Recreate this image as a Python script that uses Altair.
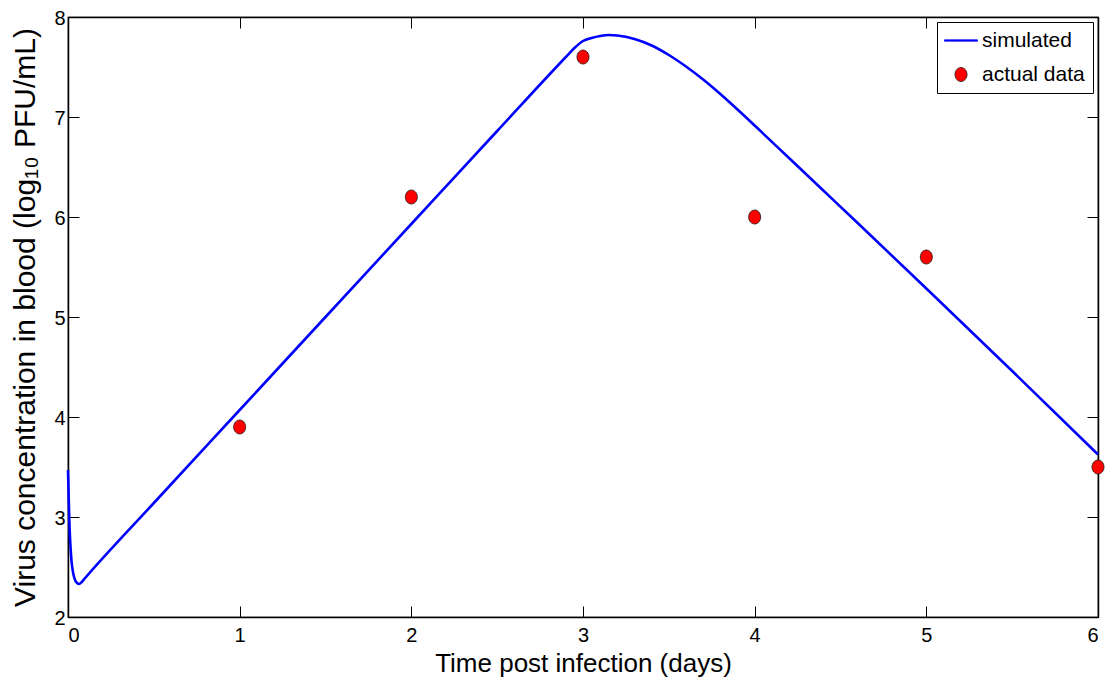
import altair as alt
import pandas as pd

# simulated curve (days post infection, log10 PFU/mL)
sim_day = [0.0, 0.004, 0.008, 0.014, 0.021, 0.03, 0.041, 0.053, 0.065, 0.08, 0.1,
           0.5, 1.0, 1.5, 2.0, 2.5, 2.9, 2.95, 3.0, 3.05, 3.1, 3.15, 3.2, 3.3, 3.4,
           3.5, 3.6, 3.7, 3.8, 3.9, 4.0, 4.2, 4.4, 4.6, 5.0, 5.5, 6.0]
sim_log = [3.47, 3.2, 2.95, 2.72, 2.55, 2.44, 2.37, 2.34, 2.33, 2.35, 2.39,
           3.14, 4.07, 5.0, 5.93, 6.86, 7.6, 7.69, 7.76, 7.79, 7.81, 7.82, 7.815, 7.78, 7.715,
           7.62, 7.505, 7.375, 7.23, 7.075, 6.915, 6.59, 6.265, 5.94, 5.285, 4.46, 3.625]

# observed data
obs_day = [1, 2, 3, 4, 5, 6]
obs_log = [3.9, 6.2, 7.6, 6.0, 5.6, 3.5]

legend_names = ["simulated", "actual data"]
x_ticks = [0, 1, 2, 3, 4, 5, 6]
y_ticks = [2, 3, 4, 5, 6, 7, 8]

sim = pd.DataFrame({"day": sim_day, "log": sim_log})
obs = pd.DataFrame({"day": obs_day, "log": obs_log, "series": ["actual data"] * len(obs_day)})

FONT = "Liberation Sans"
TICK = {"expr": "-11"}
xscale = alt.Scale(domain=[0, 6], nice=False, zero=False)
yscale = alt.Scale(domain=[2, 8], nice=False, zero=False)

line_path = "M-2.36,-0.09H2.36V0.09H-2.36Z"
ellipse_path = "M0.86,0A0.86,1,0,1,1,-0.86,0A0.86,1,0,1,1,0.86,0Z"

x_bottom = alt.Axis(title="Time post infection (days)", values=x_ticks, format="d",
                    tickSize=TICK, labelPadding=19, titlePadding=5, titleFontSize=26)
y_left = alt.Axis(title="Virus concentration in blood (log₁₀ PFU/mL)", values=y_ticks, format="d",
                  tickSize=TICK, labelPadding=14, labelOffset=1.5, titlePadding=13, titleFontSize=30)
x_top = alt.Axis(orient="top", title=None, labels=False, values=x_ticks, tickSize=TICK,
                 minExtent=0, maxExtent=0)
y_right = alt.Axis(orient="right", title=None, labels=False, values=y_ticks, tickSize=TICK,
                   minExtent=0, maxExtent=0)

frame = alt.Chart(sim).mark_point(opacity=0).encode(
    x=alt.X("day:Q", scale=xscale, axis=x_top),
    y=alt.Y("log:Q", scale=yscale, axis=y_right),
)

line = alt.Chart(sim).mark_line(color="#0000ff", strokeWidth=2.6, interpolate="monotone").encode(
    x=alt.X("day:Q", scale=xscale, axis=x_bottom),
    y=alt.Y("log:Q", scale=yscale, axis=y_left),
    order="day:Q",
)

leg = alt.Legend(title=None)
pts = alt.Chart(obs).mark_point(filled=True, opacity=1, size=196, strokeWidth=0.8).encode(
    x=alt.X("day:Q", scale=xscale, axis=None),
    y=alt.Y("log:Q", scale=yscale, axis=None),
    shape=alt.Shape("series:N", scale=alt.Scale(domain=legend_names, range=[line_path, ellipse_path]), legend=leg),
    fill=alt.Fill("series:N", scale=alt.Scale(domain=legend_names, range=["#0000ff", "#ff0000"]), legend=leg),
    stroke=alt.Stroke("series:N", scale=alt.Scale(domain=legend_names, range=["#0000ff", "#1a1a1a"]), legend=leg),
)

chart = alt.layer(line, frame, pts).resolve_axis(
    x="independent", y="independent"
).properties(
    width=1030, height=600,
    autosize=alt.AutoSizeParams(type="none"),
    padding={"left": 60, "top": 9, "right": 9, "bottom": 66},
).configure_view(stroke="black", strokeWidth=1.2).configure_axis(
    domainColor="black", domainWidth=1.5, tickColor="black", tickWidth=1,
    labelFont=FONT, labelFontSize=20, labelColor="black",
    titleFont=FONT, titleColor="black", titleFontWeight="normal",
    grid=False,
).configure_legend(
    orient="top-right", offset=5, strokeColor="black", fillColor="white",
    padding=8, labelFont=FONT, labelFontSize=21, labelColor="black",
    symbolSize=196, symbolStrokeWidth=0.8, symbolOffset=5.5, labelOffset=10.5,
    rowPadding=12,
)

chart.save("out.html", embed_options={"renderer": "svg", "actions": False})
